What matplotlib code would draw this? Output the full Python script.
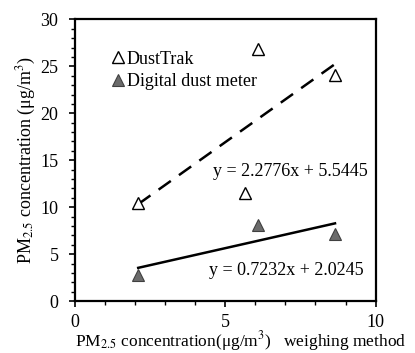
import matplotlib
matplotlib.use('Agg')
import matplotlib.pyplot as plt
import numpy as np
from matplotlib.ticker import MultipleLocator

plt.rcParams['font.family'] = ['Liberation Serif', 'DejaVu Serif']
plt.rcParams['mathtext.fontset'] = 'stix'

# weighing method (x) vs instrument readings (y)
x_dusttrak = [2.1, 5.65, 6.1, 8.65]
y_dusttrak = [10.4, 11.5, 26.9, 24.1]
x_meter = [2.1, 6.1, 8.65]
y_meter = [2.8, 8.1, 7.1]

# regression lines shown in the chart
fit_dusttrak = (2.2776, 5.5445)
fit_meter = (0.7232, 2.0245)

fs = 13

fig = plt.figure(figsize=(4.15, 3.53), dpi=100)
ax = fig.add_axes([0.181, 0.147, 0.724, 0.798])

xl = np.array([min(x_dusttrak), max(x_dusttrak)])
ax.plot(xl, fit_dusttrak[0] * xl + fit_dusttrak[1], color='black', lw=1.8,
        dashes=(6, 4))
xl2 = np.array([min(x_meter), max(x_meter)])
ax.plot(xl2, fit_meter[0] * xl2 + fit_meter[1], color='black', lw=1.8)

ax.plot(x_dusttrak, y_dusttrak, linestyle='none', marker='^', ms=9,
        mfc='white', mec='black', mew=1.0, label='DustTrak')
ax.plot(x_meter, y_meter, linestyle='none', marker='^', ms=9,
        mfc='#6b6b6b', mec='#404040', mew=0.8, label='Digital dust meter')

ax.text(9.75, 13.8, 'y = 2.2776x + 5.5445', ha='right', va='center', fontsize=fs)
ax.text(9.6, 3.3, 'y = 0.7232x + 2.0245', ha='right', va='center', fontsize=fs)

ax.set_xlim(0, 10)
ax.set_ylim(0, 30)
ax.xaxis.set_major_locator(MultipleLocator(5))
ax.xaxis.set_minor_locator(MultipleLocator(1))
ax.yaxis.set_major_locator(MultipleLocator(5))
ax.yaxis.set_minor_locator(MultipleLocator(1))
ax.tick_params(which='major', direction='out', length=4, width=1.2, labelsize=fs, pad=8)
ax.tick_params(which='minor', direction='out', length=3, width=1.0)
ax.tick_params(axis='x', pad=5)
for s in ax.spines.values():
    s.set_linewidth(1.6)

ax.set_ylabel('PM$_{2.5}$ concentration (μg/m$^3$)', fontsize=fs, labelpad=2)
ax.set_xlabel('PM$_{2.5}$ concentration(μg/m$^3$)   weighing method', fontsize=12.5,
              labelpad=-1, x=0.55)

leg = ax.legend(loc='upper left', bbox_to_anchor=(0.105, 0.915), frameon=False,
                handlelength=0.5, handletextpad=0.2, fontsize=fs,
                labelspacing=0.3, borderaxespad=0)

fig.savefig('out.png', dpi=100)
